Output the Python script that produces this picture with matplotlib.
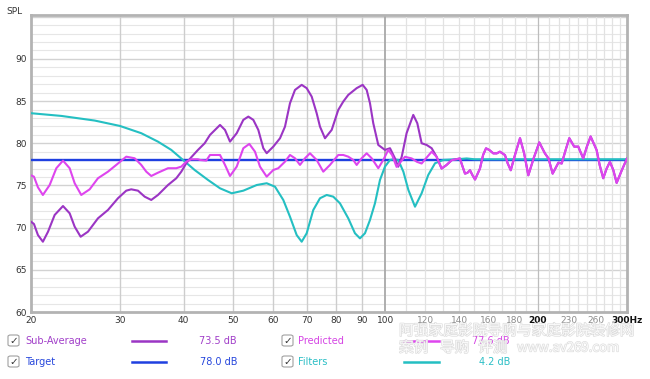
import numpy as np
import matplotlib.pyplot as plt
import matplotlib.patheffects as pe
from matplotlib.patches import FancyBboxPatch

# === DATA ===
sub_freq = [20.0, 20.27, 20.64, 21.11, 21.61, 22.27, 23.13, 23.84, 24.39, 25.06, 25.91, 27.11,
            28.37, 29.69, 30.83, 31.54, 32.52, 33.52, 34.54, 35.61, 37.27, 38.70, 39.59, 40.50,
            41.43, 42.71, 44.03, 45.11, 47.21, 48.29, 49.40, 50.93, 52.48, 53.69, 54.92, 56.18,
            57.47, 58.36, 60.14, 62.0, 63.42, 64.88, 66.37, 68.42, 69.99, 71.60, 73.24, 74.35,
            76.06, 78.41, 80.79, 82.65, 84.55, 87.84, 90.26, 91.92, 93.31, 94.72, 96.90, 99.89,
            102.2, 104.5, 106.1, 107.8, 110.2, 113.6, 115.7, 118.0, 120.7, 123.5, 126.3]
sub_spl = [70.7, 70.43, 69.12, 68.33, 69.52, 71.5, 72.56, 71.7, 70.11, 68.92, 69.52, 71.1,
           72.09, 73.48, 74.38, 74.54, 74.38, 73.67, 73.28, 73.87, 75.05, 75.85, 76.63, 77.63,
           78.34, 79.21, 80.0, 80.99, 82.17, 81.58, 80.19, 81.19, 82.77, 83.16, 82.77, 81.58,
           79.41, 78.82, 79.6, 80.59, 81.97, 84.75, 86.32, 86.92, 86.53, 85.53, 83.56, 81.97,
           80.59, 81.58, 83.95, 84.94, 85.73, 86.53, 86.92, 86.32, 84.75, 82.37, 79.8, 79.21,
           79.41, 78.22, 77.22, 78.41, 81.19, 83.36, 82.37, 80.0, 79.8, 79.41, 78.4]

pred_freq = [20.0, 20.27, 20.64, 21.11, 21.77, 22.44, 23.13, 23.84, 24.39, 25.13, 26.11, 27.11,
             28.37, 29.46, 30.83, 32.03, 33.01, 33.77, 34.54, 35.61, 37.27, 38.70, 39.59, 40.50,
             41.43, 42.71, 43.10, 44.35, 45.11, 47.21, 48.29, 49.40, 50.93, 52.48, 53.93, 55.34,
             56.61, 58.36, 60.14, 61.52, 63.42, 64.88, 66.37, 67.89, 69.45, 71.04, 73.24, 75.47,
             77.80, 80.79, 82.65, 84.55, 86.49, 87.84, 89.85, 91.92, 94.03, 96.90, 99.12, 101.4,
             103.2, 105.3, 107.3, 109.4, 111.0, 112.8, 115.5, 118.0, 120.7, 123.5, 126.3, 129.2,
             132.0, 135.3, 138.0, 140.4, 142.0, 143.7, 145.3, 147.0, 148.7, 150.4, 153.8, 156.0,
             158.1, 160.5, 163.4, 166.0, 168.4, 172.3, 174.5, 176.9, 180.5, 184.5, 188.0, 191.6,
             196.5, 201.4, 206.6, 210.0, 214.0, 219.7, 223.0, 227.0, 230.8, 236.0, 240.4, 245.9,
             250.0, 254.3, 261.3, 265.0, 269.3, 273.5, 277.6, 282.0, 286.2, 293.0, 300.0]
pred_spl = [76.2, 76.04, 74.78, 73.87, 75.05, 77.04, 77.94, 77.04, 75.26, 73.87, 74.54, 75.85,
            76.63, 77.43, 78.41, 78.22, 77.43, 76.63, 76.12, 76.51, 77.04, 77.04, 77.23, 77.82,
            78.1, 78.1, 78.02, 77.94, 78.61, 78.61, 77.43, 76.12, 77.23, 79.41, 79.92, 79.0,
            77.23, 76.04, 76.83, 77.04, 77.82, 78.61, 78.22, 77.43, 78.22, 78.81, 78.02, 76.63,
            77.43, 78.61, 78.61, 78.41, 78.02, 77.43, 78.22, 78.81, 78.22, 77.04, 78.02, 79.21,
            78.6, 77.2, 77.8, 78.4, 78.3, 78.2, 77.8, 77.6, 78.3, 79.0, 78.4, 77.0,
            77.4, 78.0, 78.1, 78.2, 77.3, 76.4, 76.5, 76.8, 76.2, 75.7, 77.0, 78.6,
            79.4, 79.2, 78.8, 78.8, 79.0, 78.6, 77.6, 76.8, 78.7, 80.6, 78.8, 76.2,
            78.3, 80.1, 78.8, 78.2, 76.4, 77.7, 77.6, 79.2, 80.6, 79.6, 79.6, 78.2,
            79.6, 80.8, 79.2, 77.4, 75.85, 77.0, 77.8, 76.8, 75.3, 76.8, 78.2]

filt_freq = [20.0, 22.95, 26.71, 29.96, 33.01, 35.61, 37.83, 39.90, 42.07, 44.70, 47.21, 49.79,
             52.48, 55.77, 58.36, 60.61, 62.93, 64.88, 66.88, 68.42, 69.99, 72.12, 74.35, 76.65,
             78.98, 81.42, 84.55, 87.16, 89.16, 91.21, 93.31, 95.45, 97.65, 99.89, 102.2, 103.7,
             106.1, 108.6, 111.1, 114.5, 118.0, 121.6, 125.4, 130.2, 138.4, 144.8, 150.0, 300.0]
filt_spl = [83.56, 83.24, 82.69, 82.05, 81.19, 80.19, 79.21, 78.02, 76.83, 75.65, 74.66, 74.07,
            74.38, 75.05, 75.26, 74.85, 73.28, 71.29, 69.12, 68.33, 69.33, 72.09, 73.48, 73.87,
            73.67, 72.88, 71.1, 69.33, 68.73, 69.33, 70.9, 72.88, 75.65, 77.23, 78.02, 78.1,
            78.02, 76.63, 74.46, 72.48, 74.07, 76.24, 77.63, 78.02, 78.1, 78.2, 78.1, 78.1]

target_freq = [20.0, 300.0]
target_spl = [78.0, 78.0]

# beyond ~128 Hz the sub-average sits under the predicted curve
sub_freq = sub_freq + [f for f in pred_freq if f > 128]
sub_spl = sub_spl + [v for f, v in zip(pred_freq, pred_spl) if f > 128]

xticks = [20, 30, 40, 50, 60, 70, 80, 90, 100, 120, 140, 160, 180, 200, 230, 260, 300]
xlabels = ['20', '30', '40', '50', '60', '70', '80', '90', '100', '120', '140', '160', '180',
           '200', '230', '260', '300Hz']
yticks = [60, 65, 70, 75, 80, 85, 90]

legend_names = ['Sub-Average', 'Target', 'Predicted', 'Filters']
legend_values = ['73.5 dB', '78.0 dB', '77.6 dB', '4.2 dB']

# === COLOURS ===
c_sub = '#9b35c4'
c_pred = '#de45ee'
c_target = '#1f40e0'
c_filt = '#24bfc2'
text_cols = ['#a13fc9', '#2747dc', '#d544e4', '#2cbfc6']
line_cols = [c_sub, c_target, c_pred, c_filt]

W, H = 650, 379
fig = plt.figure(figsize=(6.5, 3.79), dpi=100)
ax = fig.add_axes([31 / W, 1 - 312 / H, 596 / W, 297 / H])

def fx(px):
    return px / W

def fy(py):
    return 1 - py / H

# === grid ===
for v in range(61, 96):
    ax.axhline(v, color='#d2d2d2' if v % 5 == 0 else '#e6e6e6',
               lw=1.0 if v % 5 == 0 else 0.8, zorder=0)
for f in range(30, 100, 10):
    ax.axvline(f, color='#cdcdcd', lw=1.0, zorder=0)
for f in range(110, 300, 10):
    ax.axvline(f, color='#bdbdbd' if f == 200 else '#e2e2e2', lw=0.9, zorder=0)
ax.axvline(100, color='#a8a8a8', lw=1.3, zorder=0)

# === curves ===
kw = dict(solid_joinstyle='round', solid_capstyle='round')
ax.plot(target_freq, target_spl, color=c_target, lw=1.7, zorder=3)
ax.plot(filt_freq, filt_spl, color=c_filt, lw=1.5, zorder=4, **kw)
ax.plot(sub_freq, sub_spl, color=c_sub, lw=1.5, zorder=5, **kw)
ax.plot(pred_freq, pred_spl, color=c_pred, lw=1.5, zorder=6, **kw)

ax.set_xscale('log')
ax.set_xlim(20, 300)
ax.set_ylim(60, 95.2)
ax.set_xticks(xticks)
ax.set_xticklabels(xlabels)
ax.xaxis.set_minor_locator(plt.NullLocator())
ax.set_yticks(yticks)
ax.tick_params(length=0, labelsize=6.5, colors='#333333', pad=3)
for lab, t in zip(ax.get_xticklabels(), xticks):
    if t in (200, 300):
        lab.set_fontweight('bold')
        lab.set_color('#111111')
    elif t > 100:
        lab.set_color('#8a8a8a')
for s in ax.spines.values():
    s.set_color('#b3b3b3')
    s.set_linewidth(2)

fig.text(fx(14), fy(12), 'SPL', fontsize=6.5, color='#333333', ha='center', va='center')

# === legend rows ===
rows = [341, 362]
cols = [(8, 25, 132, 166, 237), (282, 298, 404, 439, 510)]
for i, name in enumerate(legend_names):
    r = rows[i % 2]
    bx, tx, l0, l1, vx = cols[i // 2]
    box = FancyBboxPatch((fx(bx), fy(r + 5)), 11 / W, 11 / H,
                         boxstyle='round,pad=0,rounding_size=0.004',
                         transform=fig.transFigure, fc='white', ec='#a0a0a0', lw=0.8)
    fig.patches.append(box)
    fig.text(fx(bx + 5.5), fy(r), '\u2713', fontsize=7.5, color='#333333',
             ha='center', va='center')
    fig.text(fx(tx), fy(r), name, fontsize=7, color=text_cols[i], ha='left', va='center')
    fig.lines.append(plt.Line2D([fx(l0), fx(l1)], [fy(r), fy(r)], color=line_cols[i], lw=1.8,
                                transform=fig.transFigure))
    fig.text(fx(vx), fy(r), legend_values[i], fontsize=7, color=text_cols[i],
             ha='right', va='center')

# === watermark (faint outlined text over the legend) ===
wm = dict(family=['Noto Sans CJK SC', 'DejaVu Sans'], color='white', va='center', ha='left',
          zorder=10, alpha=0.85,
          path_effects=[pe.withStroke(linewidth=0.9, foreground='#d6d6d6')])
fig.text(fx(399), fy(331), '阿强家庭影院导购与家庭影院装修网', fontsize=10.6, **wm)
fig.text(fx(399), fy(348), '案例', fontsize=10.6, **wm)
fig.text(fx(440), fy(348), '导购', fontsize=10.6, **wm)
fig.text(fx(478), fy(348), '评测', fontsize=10.6, **wm)
fig.text(fx(517), fy(348), 'www.av269.com', fontsize=9.5, **wm)

fig.savefig('out.png', dpi=100, facecolor='white')
